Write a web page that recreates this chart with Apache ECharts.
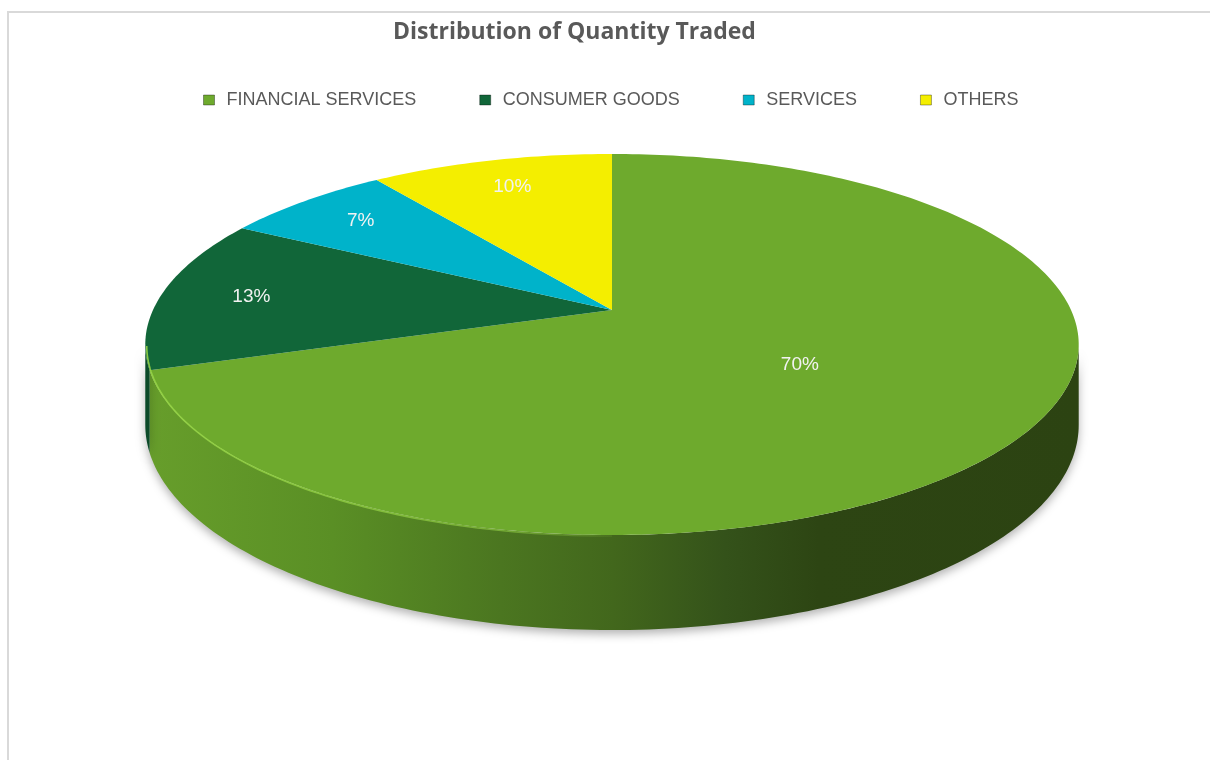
<!DOCTYPE html>
<html>
<head>
<meta charset="utf-8">
<script src="https://cdn.jsdelivr.net/npm/echarts@6/dist/echarts.min.js"></script>
<style>
  html, body { margin: 0; padding: 0; background: #fff; }
  #frame { position: absolute; left: 7px; top: 11px; right: 0; bottom: 0;
           border-left: 2px solid #d9d9d9; border-top: 2px solid #d9d9d9; }
  #main { position: absolute; left: 0; top: 0; width: 1210px; height: 760px; }
</style>
</head>
<body>
<div id="frame"></div>
<div id="main"></div>
<script>
// data
const categories = ["FINANCIAL SERVICES", "CONSUMER GOODS", "SERVICES", "OTHERS"];
const shares = [70, 13, 7, 10];

// colours of the slices (top face / side face)
const topColors = ["#6eaa2d", "#116639", "#00b3ca", "#f4ee00"];
const sideColors = ["#4b7620", "#0b4a29", "#007f91", "#b0ab00"];

// 3D disc projection (simple perspective)
const disc = { cx: 612, cy: 310, rx: 459, ry: 184.3, k: 0.181, depth: 77.8 };
const TWO_PI = Math.PI * 2;
const edgeFrom = Math.acos(-disc.k);      // left/right silhouette of the disc
const edgeTo = TWO_PI - edgeFrom;

const total = shares.reduce((s, v) => s + v, 0);
const starts = [];
const ends = [];
let acc = 0;
shares.forEach((v) => {
  starts.push((acc / total) * TWO_PI);
  acc += v;
  ends.push((acc / total) * TWO_PI);
});

// angle is clockwise from 12 o'clock, r is 0..1, h is the drop below the top face
function project(phi, r, h) {
  const X = r * Math.sin(phi);
  const Z = r * Math.cos(phi);
  const d = 1 + disc.k * Z;
  return [disc.cx + (disc.rx * X) / d, disc.cy + (-disc.ry * Z + h) / d];
}

function arc(a, b, r, h) {
  const pts = [];
  const n = Math.max(2, Math.ceil(((b - a) * 180) / Math.PI));
  for (let i = 0; i <= n; i++) pts.push(project(a + ((b - a) * i) / n, r, h));
  return pts;
}

// side wall shading, lit from the left
const sideFill = new echarts.graphic.LinearGradient(145, 0, 1081, 0, [
  { offset: 0, color: "#679e2b" },
  { offset: 0.2, color: "#5a8f25" },
  { offset: 0.38, color: "#4b7620" },
  { offset: 0.5, color: "#42671c" },
  { offset: 0.62, color: "#34521a" },
  { offset: 0.72, color: "#2d4513" },
  { offset: 1, color: "#2c4312" },
], true);

const rimStroke = new echarts.graphic.LinearGradient(150, 0, 640, 0, [
  { offset: 0, color: "rgba(150,212,70,0.9)" },
  { offset: 0.7, color: "rgba(150,212,70,0.6)" },
  { offset: 1, color: "rgba(150,212,70,0)" },
], true);

function renderSide(params) {
  const i = params.dataIndex;
  const a = Math.max(starts[i], edgeFrom);
  const b = Math.min(ends[i], edgeTo);
  if (b <= a) return null;
  const pts = arc(a, b, 1, 0).concat(arc(a, b, 1, disc.depth).reverse());
  return {
    type: "polygon",
    shape: { points: pts },
    style: {
      fill: i === 0 ? sideFill : sideColors[i],
      shadowBlur: 10,
      shadowOffsetY: 4,
      shadowColor: "rgba(0,0,0,0.3)",
    },
  };
}

function renderTop(i) {
  return function () {
    const a = starts[i];
    const b = ends[i];
    const pts = [project(0, 0, 0)].concat(arc(a, b, 1, 0));
    const mid = (a + b) / 2;
    const r = shares[i] / total > 0.5 ? 0.48 : 0.8;
    const lp = project(mid, r, 0);
    const children = [
      { type: "polygon", shape: { points: pts }, style: { fill: topColors[i] } },
    ];
    // light rim along the front-left edge
    const ha = Math.max(a, Math.PI);
    const hb = Math.min(b, edgeTo);
    if (hb > ha) {
      children.push({
        type: "polyline",
        shape: { points: arc(ha, hb, 0.997, 1.5) },
        style: { stroke: rimStroke, lineWidth: 1.6, fill: null },
      });
    }
    children.push({
      type: "text",
      z2: 10,
      style: {
        x: lp[0],
        y: lp[1],
        text: Math.round((shares[i] / total) * 100) + "%",
        fill: "#f2f2f2",
        font: "19px 'Liberation Sans', Arial, sans-serif",
        textAlign: "center",
        textVerticalAlign: "middle",
      },
    });
    return { type: "group", children: children };
  };
}

const series = [
  {
    name: "side",
    type: "custom",
    coordinateSystem: "none",
    z: 1,
    silent: true,
    data: shares.map((v) => [v]),
    renderItem: renderSide,
  },
];
categories.forEach((name, i) => {
  series.push({
    name: name,
    type: "custom",
    coordinateSystem: "none",
    z: 2,
    silent: true,
    itemStyle: { color: topColors[i] },
    data: [[shares[i]]],
    renderItem: renderTop(i),
  });
});

const myChart = echarts.init(document.getElementById("main"));
myChart.setOption({
  animation: false,
  title: {
    text: "Distribution of Quantity Traded",
    left: 388,
    top: 16,
    textStyle: {
      fontFamily: "'Open Sans', sans-serif",
      fontWeight: "bold",
      fontSize: 23,
      color: "#595959",
    },
  },
  legend: {
    data: categories,
    left: 198,
    top: 86,
    selectedMode: false,
    icon: "rect",
    itemWidth: 11,
    itemHeight: 10,
    itemGap: 63,
    itemStyle: { borderColor: "rgba(0,0,0,0.35)", borderWidth: 1 },
    textStyle: {
      fontFamily: "'Liberation Sans', Arial, sans-serif",
      fontSize: 18,
      color: "#595959",
      padding: [0, 0, 0, 7],
    },
  },
  series: series,
});
</script>
</body>
</html>
